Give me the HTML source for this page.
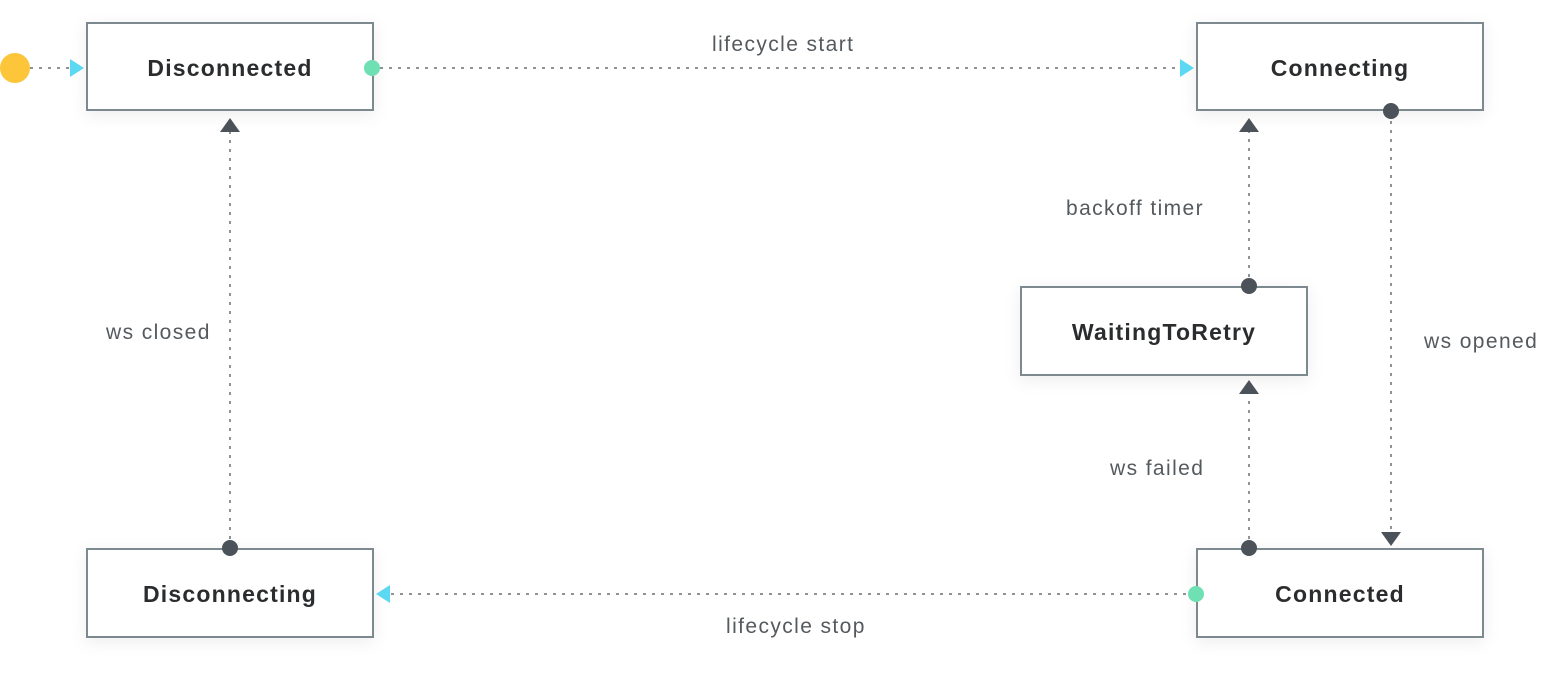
<!DOCTYPE html>
<html><head><meta charset="utf-8"><style>
html,body{margin:0;padding:0;background:#fff;}
svg{display:block;}
.b{fill:#fff;stroke:#7b8a8f;stroke-width:2;}
.t{font-family:"Liberation Sans",sans-serif;font-weight:bold;font-size:23px;fill:#2a2c2e;text-anchor:middle;letter-spacing:1.2px;}
.l{font-family:"Liberation Sans",sans-serif;font-size:21px;fill:#555a5e;letter-spacing:1.4px;}
.e{stroke:#6a6f73;stroke-width:1.5;stroke-dasharray:3 6;fill:none;}
</style></head><body>
<svg width="1544" height="676" xmlns="http://www.w3.org/2000/svg">
<defs><filter id="s" x="-20%" y="-30%" width="140%" height="160%"><feDropShadow dx="0" dy="4" stdDeviation="8" flood-color="#000" flood-opacity="0.07"/></filter></defs>
<line class="e" x1="30" y1="68" x2="72" y2="68"/>
<line class="e" x1="380" y1="68" x2="1182" y2="68"/>
<line class="e" x1="1391" y1="112" x2="1391" y2="532"/>
<line class="e" x1="1249" y1="286" x2="1249" y2="132"/>
<line class="e" x1="1249" y1="548" x2="1249" y2="396"/>
<line class="e" x1="1195" y1="594" x2="390" y2="594"/>
<line class="e" x1="230" y1="548" x2="230" y2="132"/>
<g filter="url(#s)">
<rect class="b" x="87" y="23" width="286" height="87"/>
<rect class="b" x="1197" y="23" width="286" height="87"/>
<rect class="b" x="1021" y="287" width="286" height="88"/>
<rect class="b" x="87" y="549" width="286" height="88"/>
<rect class="b" x="1197" y="549" width="286" height="88"/>
</g>
<text class="t" x="230" y="76">Disconnected</text>
<text class="t" x="1340" y="76">Connecting</text>
<text class="t" x="1164" y="340">WaitingToRetry</text>
<text class="t" x="230" y="602">Disconnecting</text>
<text class="t" x="1340" y="602">Connected</text>
<text class="l" x="712" y="51">lifecycle start</text>
<text class="l" x="1066" y="215">backoff timer</text>
<text class="l" x="1424" y="348">ws opened</text>
<text class="l" x="106" y="339">ws closed</text>
<text class="l" x="1110" y="475">ws failed</text>
<text class="l" x="726" y="633">lifecycle stop</text>
<circle cx="15" cy="68" r="15" fill="#fdc53a"/>
<polygon points="70,59 70,77 84,68" fill="#5dd8f2"/>
<circle cx="372" cy="68" r="8" fill="#6ee0b4"/>
<polygon points="1180,59 1180,77 1194,68" fill="#5dd8f2"/>
<circle cx="1391" cy="111" r="8" fill="#4c5259"/>
<polygon points="1381,532 1401,532 1391,546" fill="#4c5259"/>
<circle cx="1249" cy="286" r="8" fill="#4c5259"/>
<polygon points="1239,132 1259,132 1249,118" fill="#4c5259"/>
<circle cx="1249" cy="548" r="8" fill="#4c5259"/>
<polygon points="1239,394 1259,394 1249,380" fill="#4c5259"/>
<circle cx="1196" cy="594" r="8" fill="#6ee0b4"/>
<polygon points="390,585 390,603 376,594" fill="#5dd8f2"/>
<circle cx="230" cy="548" r="8" fill="#4c5259"/>
<polygon points="220,132 240,132 230,118" fill="#4c5259"/>
</svg>
</body></html>
